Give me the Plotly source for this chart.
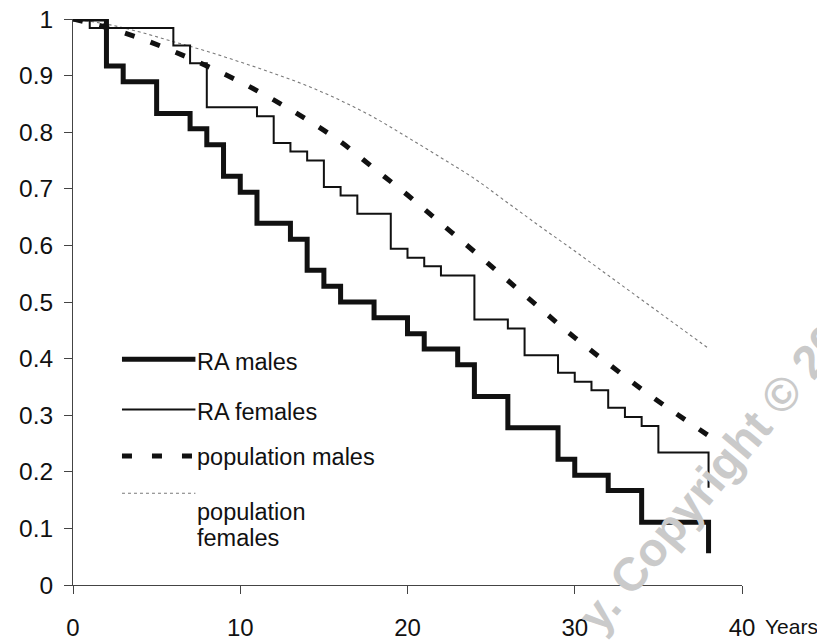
import plotly.graph_objects as go

# ---- data ----
ra_male_t = [0, 2, 3, 5, 7, 8, 9, 10, 11, 13, 14, 15, 16, 18, 20, 21, 23, 24, 26, 29, 30, 32, 34, 38, 38]
ra_male_s = [1.0, 0.917, 0.889, 0.833, 0.806, 0.778, 0.722, 0.694, 0.639, 0.611, 0.556, 0.528, 0.500,
             0.472, 0.444, 0.417, 0.389, 0.333, 0.278, 0.222, 0.194, 0.167, 0.111, 0.111, 0.056]

ra_female_t = [0, 1, 6, 7, 8, 11, 12, 13, 14, 15, 16, 17, 19, 20, 21, 22, 24, 26, 27, 29, 30, 31,
               32, 33, 34, 35, 38, 38]
ra_female_s = [1.0, 0.984, 0.953, 0.922, 0.844, 0.828, 0.781, 0.766, 0.750, 0.703, 0.688, 0.656,
               0.594, 0.578, 0.563, 0.547, 0.469, 0.453, 0.406, 0.375, 0.359, 0.344, 0.313, 0.297,
               0.281, 0.234, 0.234, 0.172]

pop_t = [0, 2, 4, 6, 8, 10, 12, 14, 16, 18, 20, 22, 24, 26, 28, 30, 32, 34, 36, 38]
pop_male_s = [1.0, 0.985, 0.966, 0.943, 0.917, 0.889, 0.857, 0.822, 0.783, 0.736, 0.689, 0.639,
              0.589, 0.538, 0.487, 0.437, 0.391, 0.346, 0.304, 0.264]
pop_female_s = [1.0, 0.991, 0.977, 0.960, 0.943, 0.924, 0.904, 0.882, 0.856, 0.826, 0.791, 0.755,
                0.718, 0.675, 0.632, 0.590, 0.547, 0.504, 0.461, 0.418]

x_ticks = [0, 10, 20, 30, 40]
x_tick_labels = ["0", "10", "20", "30", "40"]
y_ticks = [0, 0.1, 0.2, 0.3, 0.4, 0.5, 0.6, 0.7, 0.8, 0.9, 1.0]
y_tick_labels = ["0", "0.1", "0.2", "0.3", "0.4", "0.5", "0.6", "0.7", "0.8", "0.9", "1"]

legend_names = ["RA males", "RA females", "population males", "population<br>females"]

FONT = "Liberation Sans, Arial, Helvetica, sans-serif"
AX = "#444444"

fig = go.Figure()

# watermark
fig.add_annotation(text="<b>y. Copyright © 20</b>", xref="paper", yref="paper", x=0.954, y=0.19,
                   xanchor="center", yanchor="middle", textangle=-50, showarrow=False,
                   font=dict(family=FONT, size=47, color="#cacaca"))

fig.add_trace(go.Scatter(x=pop_t, y=pop_female_s, mode="lines", line_shape="spline",
                         line=dict(color="#7a7a7a", width=1.1, dash="3px,3px"),
                         name="population females", showlegend=False, cliponaxis=False))
fig.add_trace(go.Scatter(x=pop_t, y=pop_male_s, mode="lines", line_shape="spline",
                         line=dict(color="#111111", width=5, dash="10px,17px"),
                         name="population males", showlegend=False, cliponaxis=False))
fig.add_trace(go.Scatter(x=ra_female_t, y=ra_female_s, mode="lines", line_shape="hv",
                         line=dict(color="#111111", width=2),
                         name="RA females", showlegend=False, cliponaxis=False))
fig.add_trace(go.Scatter(x=ra_male_t, y=ra_male_s, mode="lines", line_shape="hv",
                         line=dict(color="#111111", width=5),
                         name="RA males", showlegend=False, cliponaxis=False))

# manual legend (paper coordinates)
leg_styles = [dict(color="#111111", width=5),
              dict(color="#111111", width=2),
              dict(color="#111111", width=5, dash="10px,20px"),
              dict(color="#7a7a7a", width=1.1, dash="3px,3px")]
leg_line_y = [0.399, 0.310, 0.228, 0.162]
leg_text_y = [0.394, 0.306, 0.226, 0.129]
LINE_STEP = 0.046  # spacing between wrapped legend text lines
for name, st, ly, ty in zip(legend_names, leg_styles, leg_line_y, leg_text_y):
    fig.add_shape(type="line", xref="paper", yref="paper", x0=0.0732, x1=0.183, y0=ly, y1=ly,
                  line=st)
    for k, part in enumerate(name.split("<br>")):
        fig.add_annotation(text=part, xref="paper", yref="paper", x=0.183, y=ty - k * LINE_STEP,
                           xanchor="left", yanchor="middle", align="left", showarrow=False,
                           font=dict(family=FONT, size=23.5, color="#111111"))

fig.add_annotation(text="Years", xref="paper", yref="paper", x=1.032, y=-0.074, xanchor="left",
                   yanchor="middle", showarrow=False, font=dict(family=FONT, size=21, color="#111111"))

# the page body adds an 8px offset, so the figure is 8px smaller than the window
fig.update_layout(
    width=817, height=632,
    margin=dict(l=65, r=83, t=11, b=55),
    paper_bgcolor="white", plot_bgcolor="white",
    font=dict(family=FONT, color="#111111"),
    showlegend=False,
)
fig.update_xaxes(range=[0, 40], tickvals=x_ticks, ticktext=x_tick_labels, showgrid=False,
                 zeroline=False, showline=True, linecolor=AX, linewidth=1, ticks="outside",
                 ticklen=8, tickcolor=AX, ticklabelstandoff=13, automargin=False,
                 ticklabeloverflow="allow", tickfont=dict(size=24, color="#111111"))
fig.update_yaxes(range=[0, 1], tickvals=y_ticks, ticktext=y_tick_labels, showgrid=False,
                 zeroline=False, showline=True, linecolor=AX, linewidth=1, ticks="outside",
                 ticklen=8, tickcolor=AX, ticklabelstandoff=6, automargin=False,
                 ticklabeloverflow="allow", tickfont=dict(size=24.5, color="#111111"))

fig.write_html("out.html")
